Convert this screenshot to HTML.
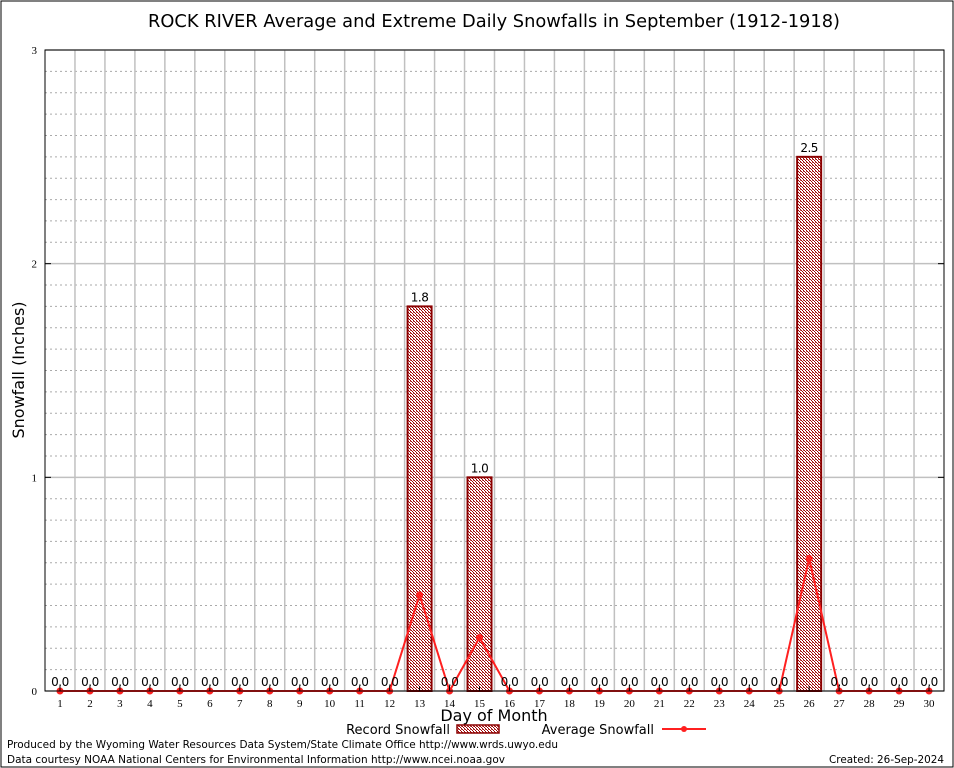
<!DOCTYPE html>
<html><head><meta charset="utf-8"><style>
body{margin:0;background:#fff}
svg{display:block;font-family:"DejaVu Sans","Liberation Sans",sans-serif}
</style></head><body>
<svg id="c" width="954" height="768">
<defs><pattern id="hatch" width="3" height="3" patternUnits="userSpaceOnUse"><rect width="3" height="3" fill="#fff"/><rect width="1" height="1" fill="#a00000"/><rect x="1" y="1" width="1" height="1" fill="#a00000"/><rect x="2" y="2" width="1" height="1" fill="#a00000"/><rect x="2" y="0" width="1" height="1" fill="#c06060"/></pattern></defs>
<rect x="1" y="1" width="952" height="766" fill="#fff" stroke="#000" stroke-width="1"/>
<text x="494" y="27" font-size="18" text-anchor="middle" textLength="692" lengthAdjust="spacingAndGlyphs">ROCK RIVER Average and Extreme Daily Snowfalls in September (1912-1918)</text>
<g id="grid"></g><g id="bars"></g><g id="line"></g><g id="labels"></g><g id="axes"></g>
<text x="24" y="370" font-size="16" text-anchor="middle" transform="rotate(-90 24 370)">Snowfall (Inches)</text>
<text x="494" y="721" font-size="16" text-anchor="middle">Day of Month</text>
<g>
<text x="450" y="734" font-size="13" text-anchor="end">Record Snowfall</text>
<rect x="457" y="725" width="42" height="8" fill="url(#hatch)" stroke="#8b0000" stroke-width="1.5"/>
<text x="654" y="734" font-size="13" text-anchor="end">Average Snowfall</text>
<line x1="662" y1="729" x2="706" y2="729" stroke="#ff2020" stroke-width="2"/>
<circle cx="684" cy="729" r="3" fill="#ff2020"/>
</g>
<text x="7" y="748" font-size="11" textLength="551" lengthAdjust="spacingAndGlyphs">Produced by the Wyoming Water Resources Data System/State Climate Office http://www.wrds.uwyo.edu</text>
<text x="7" y="763" font-size="11" textLength="498" lengthAdjust="spacingAndGlyphs">Data courtesy NOAA National Centers for Environmental Information http://www.ncei.noaa.gov</text>
<text x="944" y="763" font-size="11" text-anchor="end" textLength="115" lengthAdjust="spacingAndGlyphs">Created: 26-Sep-2024</text>
</svg>
<script>
const days=[1,2,3,4,5,6,7,8,9,10,11,12,13,14,15,16,17,18,19,20,21,22,23,24,25,26,27,28,29,30];
const recordValues=[0,0,0,0,0,0,0,0,0,0,0,0,1.8,0,1.0,0,0,0,0,0,0,0,0,0,0,2.5,0,0,0,0];
const averageValues=[0,0,0,0,0,0,0,0,0,0,0,0,0.45,0,0.25,0,0,0,0,0,0,0,0,0,0,0.62,0,0,0,0];
const yTicks=[0,1,2,3];
const NS='http://www.w3.org/2000/svg';
const L=45,R=944,T=50,B=691,yMax=3;
const xs=d=>L+(d-0.5)*(R-L)/30;
const ys=v=>B-v*(B-T)/yMax;
function mk(p,t,a){const e=document.createElementNS(NS,t);for(const k in a)e.setAttribute(k,a[k]);p.appendChild(e);return e;}
const grid=document.getElementById('grid'),bars=document.getElementById('bars'),line=document.getElementById('line'),labels=document.getElementById('labels'),axes=document.getElementById('axes');
for(let i=1;i<yMax*10;i++){if(i%10===0)continue;const y=ys(i/10);
const g=mk(grid,'line',{x1:L,x2:R,y1:y,y2:y,stroke:'#aaa','stroke-dasharray':'2,3','stroke-width':1});

}
yTicks.forEach(t=>{const y=ys(t);
const g=mk(grid,'line',{x1:L,x2:R,y1:y,y2:y,stroke:'#c0c0c0','stroke-width':1.5});


const tx=mk(axes,'text',{x:L-8,y:y+4,'font-size':11,'text-anchor':'end','font-family':'Liberation Serif, serif'});tx.textContent=t;


mk(axes,'line',{x1:L,x2:L+6,y1:y,y2:y,stroke:'#000'});mk(axes,'line',{x1:R,x2:R-6,y1:y,y2:y,stroke:'#000'});});
for(let i=1;i<30;i++){const x=xs(i+0.5);
const g=mk(grid,'line',{x1:x,x2:x,y1:T,y2:B,stroke:'#c0c0c0','stroke-width':1.5});

}
days.forEach((d,i)=>{const v=recordValues[i];const x=xs(d);
if(v>0){const r=mk(bars,'rect',{x:x-12,y:ys(v),width:24,height:B-ys(v),fill:'url(#hatch)',stroke:'#8b0000','stroke-width':2});

}
const t=mk(labels,'text',{x:x,y:ys(v)-5,'font-size':12,'text-anchor':'middle','letter-spacing':'-0.5'});t.textContent=v.toFixed(1);


const tk=mk(axes,'text',{x:x,y:B+16,'font-size':11,'text-anchor':'middle','font-family':'Liberation Serif, serif'});tk.textContent=d;


mk(axes,'line',{x1:x,x2:x,y1:B,y2:B-5,stroke:'#000'});});
const pl=mk(line,'polyline',{points:days.map((d,i)=>xs(d)+','+ys(averageValues[i])).join(' '),fill:'none',stroke:'#ff2020','stroke-width':2});


days.forEach((d,i)=>{const c=mk(line,'circle',{cx:xs(d),cy:ys(averageValues[i]),r:3.5,fill:'#ff2020'});

});
const ax=mk(axes,'rect',{x:L,y:T,width:R-L,height:B-T,fill:'none',stroke:'#000','stroke-width':1});


</script>
</body></html>
